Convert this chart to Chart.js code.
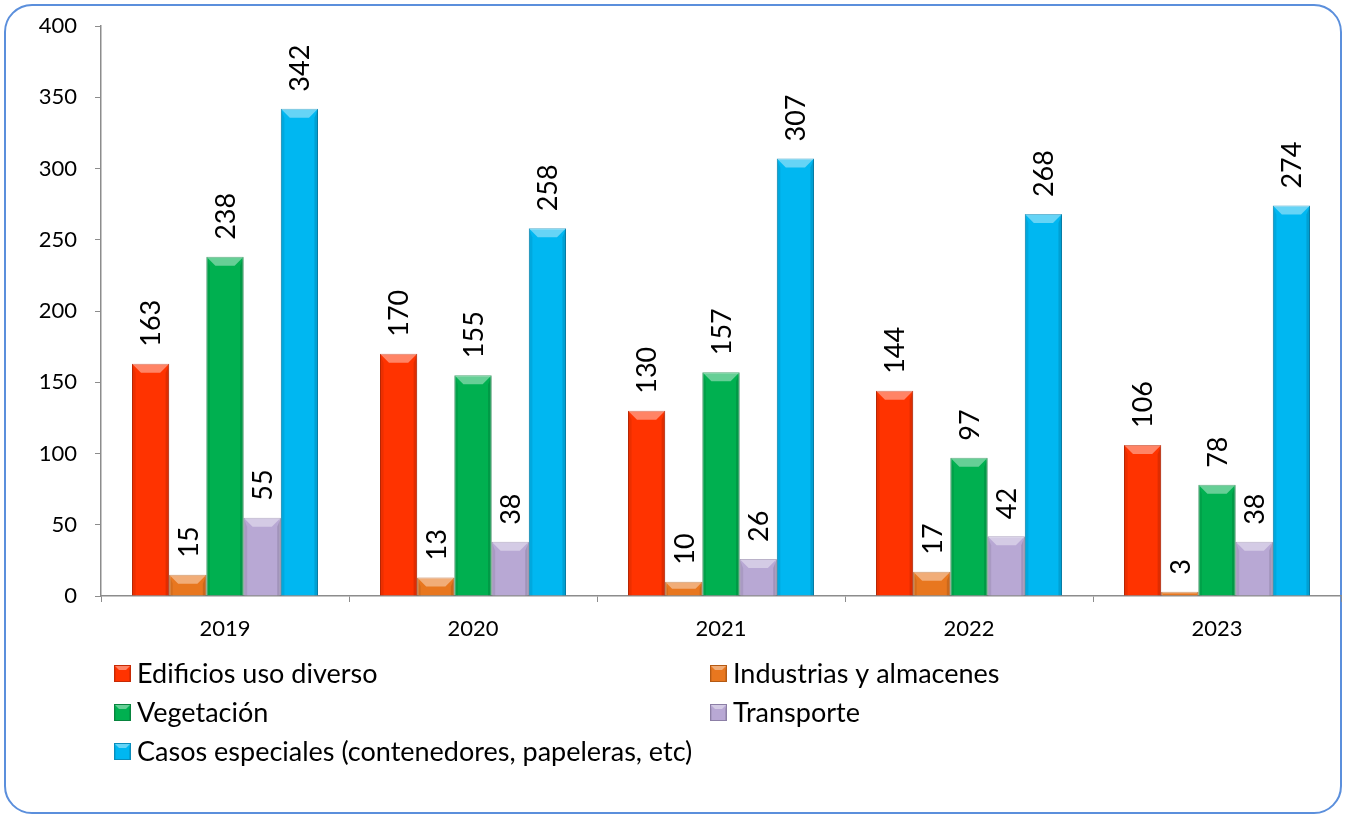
<!DOCTYPE html>
<html>
<head>
<meta charset="utf-8">
<script src="https://cdn.jsdelivr.net/npm/chart.js@4/dist/chart.umd.min.js"></script>
<style>
  html, body { margin: 0; padding: 0; background: #fff; }
  #frame {
    position: absolute; left: 4px; top: 4px; width: 1338px; height: 810px;
    border: 2px solid #5b8fdc; border-radius: 28px; box-sizing: border-box;
  }
  #chart { position: absolute; left: 0; top: 0; }
</style>
</head>
<body>
<div id="frame"></div>
<canvas id="chart" width="1345" height="817"></canvas>
<script>
var years = ['2019', '2020', '2021', '2022', '2023'];
var seriesNames = [
    'Edificios uso diverso',
    'Industrias y almacenes',
    'Vegetación',
    'Transporte',
    'Casos especiales (contenedores, papeleras, etc)'
];
var edificios = [163, 170, 130, 144, 106];
var industrias = [15, 13, 10, 17, 3];
var vegetacion = [238, 155, 157, 97, 78];
var transporte = [55, 38, 26, 42, 38];
var especiales = [342, 258, 307, 268, 274];
var yTicks = [0, 50, 100, 150, 200, 250, 300, 350, 400];

var fills = ['#ff3300', '#e8771f', '#00b050', '#b8a8d4', '#00b7f1'];
var edges = ['#c62a05', '#b45a14', '#08843e', '#8c7fa6', '#0a8dbb'];

var FONT = 'Lato, "Noto Sans", sans-serif';

// draw a bevel: light top facet, darker side facets
function bevel(ctx, l, t, r, b, size) {
    var s = Math.min(size, (b - t) / 2, (r - l) / 2);
    if (s <= 0) return;
    ctx.fillStyle = 'rgba(255,255,255,0.4)';
    ctx.beginPath();
    ctx.moveTo(l, t); ctx.lineTo(r, t); ctx.lineTo(r - s, t + s); ctx.lineTo(l + s, t + s);
    ctx.closePath(); ctx.fill();
    ctx.fillStyle = 'rgba(0,0,0,0.08)';
    ctx.beginPath();
    ctx.moveTo(l, t); ctx.lineTo(l + s * 0.4, t + s); ctx.lineTo(l + s * 0.4, b); ctx.lineTo(l, b);
    ctx.closePath(); ctx.fill();
    ctx.fillStyle = 'rgba(0,0,0,0.12)';
    ctx.beginPath();
    ctx.moveTo(r, t); ctx.lineTo(r - s * 0.4, t + s); ctx.lineTo(r - s * 0.4, b); ctx.lineTo(r, b);
    ctx.closePath(); ctx.fill();
}

var barBevel = {
    id: 'barBevel',
    afterDatasetsDraw: function (chart) {
        var ctx = chart.ctx;
        ctx.save();
        chart.data.datasets.forEach(function (ds, i) {
            chart.getDatasetMeta(i).data.forEach(function (bar) {
                var w = bar.width / 2;
                bevel(ctx, bar.x - w, bar.y, bar.x + w, bar.base, 9);
            });
        });
        ctx.restore();
    }
};

// rotated value labels above each bar
var valueLabels = {
    id: 'valueLabels',
    afterDatasetsDraw: function (chart) {
        var ctx = chart.ctx;
        ctx.save();
        ctx.fillStyle = '#000';
        ctx.font = '27px ' + FONT;
        ctx.textAlign = 'left';
        ctx.textBaseline = 'middle';
        chart.data.datasets.forEach(function (ds, i) {
            chart.getDatasetMeta(i).data.forEach(function (bar, j) {
                ctx.save();
                ctx.translate(bar.x, bar.y - 17);
                ctx.rotate(-Math.PI / 2);
                ctx.fillText(String(ds.data[j]), 0, 1);
                ctx.restore();
            });
        });
        ctx.restore();
    }
};

// two-column legend under the axis
var gridLegend = {
    id: 'gridLegend',
    afterDraw: function (chart) {
        var ctx = chart.ctx;
        var cols = [114, 710];
        var rows = [673, 712, 751];
        ctx.save();
        ctx.font = '27px ' + FONT;
        ctx.textBaseline = 'middle';
        ctx.textAlign = 'left';
        chart.data.datasets.forEach(function (ds, i) {
            var x = cols[i % 2];
            var y = rows[Math.floor(i / 2)];
            ctx.fillStyle = ds.backgroundColor;
            ctx.fillRect(x, y - 8, 17, 17);
            bevel(ctx, x, y - 8, x + 17, y + 9, 5);
            ctx.strokeStyle = ds.borderColor;
            ctx.lineWidth = 1;
            ctx.strokeRect(x + 0.5, y - 7.5, 16, 16);
            ctx.fillStyle = '#000';
            ctx.fillText(ds.label, x + 23, y + 1);
        });
        ctx.restore();
    }
};

var allValues = [edificios, industrias, vegetacion, transporte, especiales];

new Chart(document.getElementById('chart'), {
    type: 'bar',
    data: {
        labels: years,
        datasets: allValues.map(function (vals, i) {
            return {
                label: seriesNames[i],
                data: vals,
                backgroundColor: fills[i],
                borderColor: edges[i],
                borderWidth: 1
            };
        })
    },
    options: {
        responsive: false,
        animation: false,
        devicePixelRatio: 1,
        categoryPercentage: 0.75,
        barPercentage: 1,
        layout: { padding: { top: 26, right: 4, left: 0, bottom: 161 } },
        plugins: {
            legend: { display: false },
            tooltip: { enabled: false }
        },
        scales: {
            x: {
                afterFit: function (s) { s.height = 60; },
                grid: { drawOnChartArea: false, offset: true, tickLength: 6, color: '#8c8c8c' },
                border: { color: '#8c8c8c', width: 1.5 },
                ticks: { color: '#000', padding: 14, font: { family: FONT, size: 22 } }
            },
            y: {
                min: 0,
                max: 400,
                afterFit: function (s) { s.width = 101; },
                afterBuildTicks: function (s) {
                    s.ticks = yTicks.map(function (v) { return { value: v }; });
                },
                grid: { drawOnChartArea: false, tickLength: 6, color: '#8c8c8c' },
                border: { color: '#8c8c8c', width: 1.5 },
                ticks: { color: '#000', padding: 18, font: { family: FONT, size: 22, lineHeight: 0.6 } }
            }
        }
    },
    plugins: [barBevel, valueLabels, gridLegend]
});
</script>
</body>
</html>
